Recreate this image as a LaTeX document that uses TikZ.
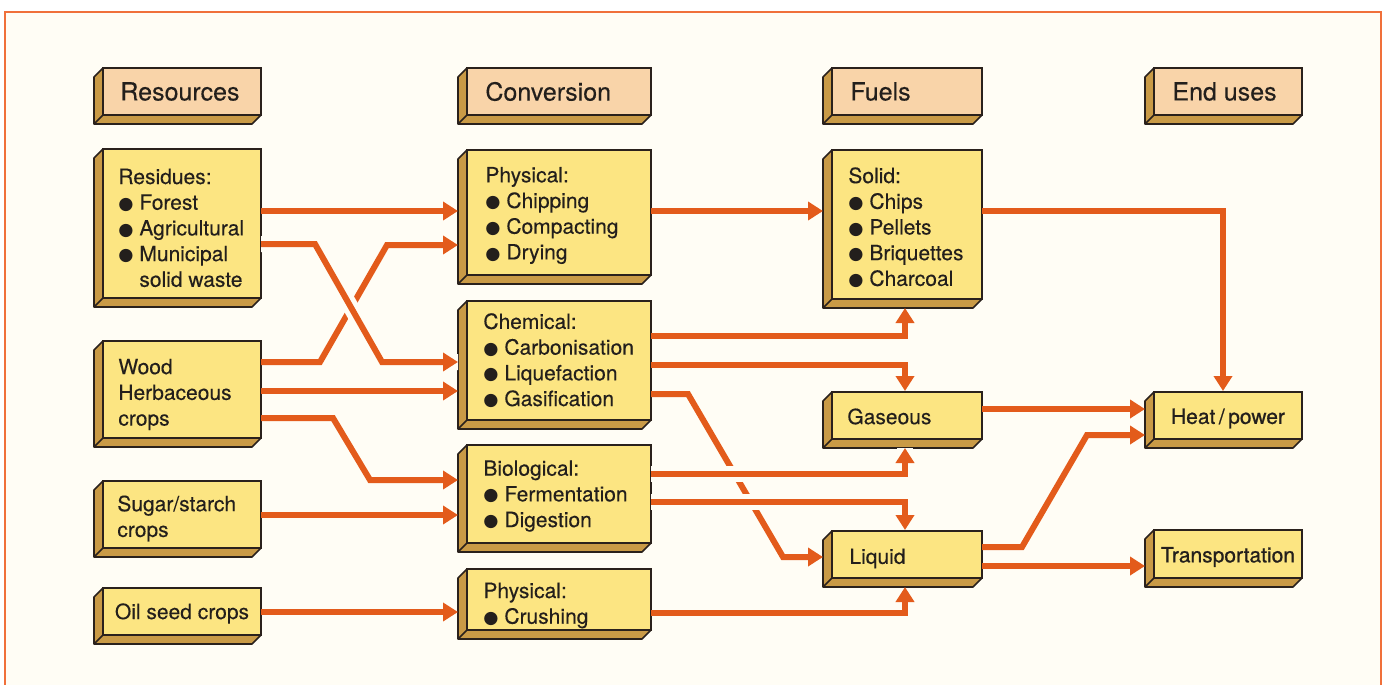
\documentclass[tikz,border=0pt]{standalone}
\usepackage{fontspec}
\setmainfont[FakeBold=0.25]{TeX Gyre Heros}
\newfontfamily\dejavu{DejaVu Sans}
\newfontfamily\medfont[FakeBold=0.8]{TeX Gyre Heros}
\usetikzlibrary{arrows.meta,calc}
\definecolor{bgc}{HTML}{FFFDF5}
\definecolor{framec}{HTML}{F0703A}
\definecolor{arrc}{HTML}{E35B1B}
\definecolor{hdrc}{HTML}{F9D4A9}
\definecolor{facec}{HTML}{FCE582}
\definecolor{sidec}{HTML}{C99A46}
\definecolor{linec}{HTML}{2A211C}
\definecolor{txtc}{HTML}{231F1C}
\newcommand\bul{\makebox[10.5pt][l]{\raisebox{0.2pt}{\dejavu\fontsize{8.7}{8.7}\selectfont ●}}}
\newcommand\indentitem{\hspace*{10.5pt}}
\tikzset{
  face/.style={draw=linec, line width=0.8pt, inner sep=0pt, outer sep=0pt, anchor=north west},
  hdrface/.style={face, fill=hdrc},
  bodyface/.style={face, fill=facec},
  sideface/.style={fill=sidec, draw=linec, line width=0.8pt, line join=round},
  bodytext/.style={font=\fontsize{10.5}{12.85}\selectfont, align=left, inner sep=0pt, anchor=west, text=txtc},
  hdrtext/.style={font=\fontsize{12.5}{14}\selectfont, inner sep=0pt, anchor=west, text=txtc},
  endtext/.style={font=\medfont\fontsize{10.5}{12.85}\selectfont, inner sep=0pt, anchor=center, text=txtc},
  arr/.style={draw=arrc, line width=3pt, -{Triangle[length=7.5pt,width=9pt]}},
  gap/.style={preaction={draw=bgc, line width=8pt, -}},
  frameline/.style={draw=framec, line width=1pt},
}
% #1 name, #2 x0, #3 y0, #4 x1, #5 y1, #6 face style
\newcommand\threedbox[6]{%
  \filldraw[sideface] (#2,#3) -- (#2-9,#3+9) -- (#2-9,#5+9) -- (#4-9,#5+9) -- (#4,#5) -- (#2,#5) -- cycle;
  \draw[sideface, fill=none] (#2,#5) -- (#2-9,#5+9);
  \node[#6, minimum width={(#4-#2)*0.5pt}, minimum height={(#5-#3)*0.5pt}] (#1) at (#2,#3) {};
}
\begin{document}
\begin{tikzpicture}[x=0.5pt,y=-0.5pt]
\useasboundingbox (0,0) rectangle (1392,685);
\fill[white] (0,0) rectangle (1392,685);
\fill[bgc] (5,12) rectangle (1381,685);
\draw[frameline] (5,685) -- (5,12) -- (1381,12) -- (1381,685);

% headers
\threedbox{hRes}{103}{68}{261}{115}{hdrface}
\threedbox{hConv}{467}{68}{651}{115}{hdrface}
\threedbox{hFuel}{832}{68}{982}{115}{hdrface}
\threedbox{hEnd}{1154}{68}{1302}{115}{hdrface}
\node[hdrtext] (hResT) at ([xshift=8.5pt]hRes.west) {Resources};
\node[hdrtext] (hConvT) at ([xshift=9pt]hConv.west) {Conversion};
\node[hdrtext] (hFuelT) at ([xshift=9pt]hFuel.west) {Fuels};
\node[hdrtext] (hEndT) at ([xshift=9pt]hEnd.west) {End uses};

% resources
\threedbox{res}{103}{149}{261}{298}{bodyface}
\threedbox{wood}{103}{341}{261}{438}{bodyface}
\threedbox{sugar}{103}{481}{261}{548}{bodyface}
\threedbox{oil}{103}{588}{261}{635}{bodyface}
\node[bodytext] (resT) at ([xshift=7.5pt,yshift=-2.2pt]res.west) {Residues:\\ \bul Forest\\ \bul Agricultural\\ \bul Municipal\\ \indentitem solid waste};
\node[bodytext] (woodT) at ([xshift=7.5pt,yshift=-2.5pt]wood.west) {Wood\\ Herbaceous\\ crops};
\node[bodytext] (sugarT) at ([xshift=7pt,yshift=-2pt]sugar.west) {Sugar/starch\\ crops};
\node[bodytext, anchor=center] (oilT) at ([yshift=-1pt]oil.center) {Oil seed crops};

% conversion
\threedbox{phys}{467}{150}{651}{275}{bodyface}
\threedbox{chem}{467}{301}{651}{420}{bodyface}
\threedbox{bio}{467}{445}{651}{543}{bodyface}
\threedbox{crush}{467}{569}{651}{630}{bodyface}
\node[bodytext] (physT) at ([xshift=9pt,yshift=-1.5pt]phys.west) {Physical:\\ \bul Chipping\\ \bul Compacting\\ \bul Drying};
\node[bodytext] (chemT) at ([xshift=8pt]chem.west) {Chemical:\\ \bul Carbonisation\\ \bul Liquefaction\\ \bul Gasification};
\node[bodytext] (bioT) at ([xshift=8pt,yshift=-1pt]bio.west) {Biological:\\ \bul Fermentation\\ \bul Digestion};
\node[bodytext] (crushT) at ([xshift=8pt,yshift=-3pt]crush.west) {Physical:\\ \bul Crushing};

% fuels
\threedbox{solid}{832}{150}{982}{299}{bodyface}
\threedbox{gas}{832}{392}{982}{439}{bodyface}
\threedbox{liq}{832}{531}{982}{578}{bodyface}
\node[bodytext] (solidT) at ([xshift=8pt,yshift=-1.5pt]solid.west) {Solid:\\ \bul Chips\\ \bul Pellets\\ \bul Briquettes\\ \bul Charcoal};
\node[bodytext] (gasT) at ([xshift=7.5pt,yshift=-0.5pt]gas.west) {Gaseous};
\node[bodytext] (liqT) at ([xshift=8.5pt,yshift=-2pt]liq.west) {Liquid};

% end uses
\threedbox{heat}{1154}{392}{1302}{439}{bodyface}
\threedbox{trans}{1154}{530}{1302}{578}{bodyface}
\node[endtext] (heatT) at ([yshift=-1.5pt]heat.center) {Heat\,/\,power};
\node[endtext] (transT) at ([yshift=-1.5pt]trans.center) {Transportation};

% connectors: resources -> conversion
\draw[arr, shorten >=4.5pt] ($(res.north east)+(0,62)$) coordinate (a1) -- (a1 -| phys.west);
\draw[arr] ($(wood.north east)+(0,21)$) -- ++(59,0) -- ($(phys.north west)+(-80,95)$) -- ($(phys.north west)+(-9,95)$);
\draw[arr, gap] ($(res.north east)+(0,95)$) -- ++(54,0) -- ($(chem.north west)+(-85,61)$) -- ($(chem.north west)+(-9,61)$);
\draw[arr, shorten >=4.5pt] ($(wood.north east)+(0,50)$) coordinate (a4) -- (a4 -| chem.west);
\draw[arr] ($(wood.north east)+(0,77)$) -- ++(72,0) -- ($(bio.north west)+(-97,35)$) -- ($(bio.north west)+(-9,35)$);
\draw[arr, shorten >=4.5pt] ($(sugar.north east)+(0,34)$) coordinate (a6) -- (a6 -| bio.west);
\draw[arr, shorten >=4.5pt] ($(oil.north east)+(0,24)$) coordinate (a7) -- (a7 -| crush.west);

% conversion -> fuels
\draw[arr, shorten >=4.5pt] ($(phys.north east)+(0,61)$) coordinate (a8) -- (a8 -| solid.west);
\draw[arr] ($(chem.north east)+(0,35)$) -| ($(solid.south)+(-2,9)$);
\draw[arr] ($(chem.north east)+(0,64)$) -| ($(gas.north)+(-2,-1)$);
\draw[arr] ($(chem.north east)+(0,93)$) -- ++(37,0) -- ($(liq.north west)+(-49,26)$) -- ($(liq.north west)+(-9,26)$);
\draw[arr, gap] ($(bio.north east)+(0,29)$) -| ($(gas.south)+(-2,9)$);
\draw[arr, gap] ($(bio.north east)+(0,57)$) -| ($(liq.north)+(-2,-1)$);
\draw[arr] ($(crush.north east)+(0,44)$) -| ($(liq.south)+(-2,9)$);

% fuels -> end uses
\draw[arr] ($(solid.north east)+(0,61)$) -| ($(heat.north)+(-5,-1)$);
\draw[arr, shorten >=4.5pt] ($(gas.north east)+(0,17)$) coordinate (a16) -- (a16 -| heat.west);
\draw[arr] ($(liq.north east)+(0,16)$) -- ++(40,0) -- ($(heat.north west)+(-67,43)$) -- ($(heat.north west)+(-9,43)$);
\draw[arr, shorten >=4.5pt] ($(liq.north east)+(0,35)$) coordinate (a18) -- (a18 -| trans.west);
\end{tikzpicture}
\end{document}
